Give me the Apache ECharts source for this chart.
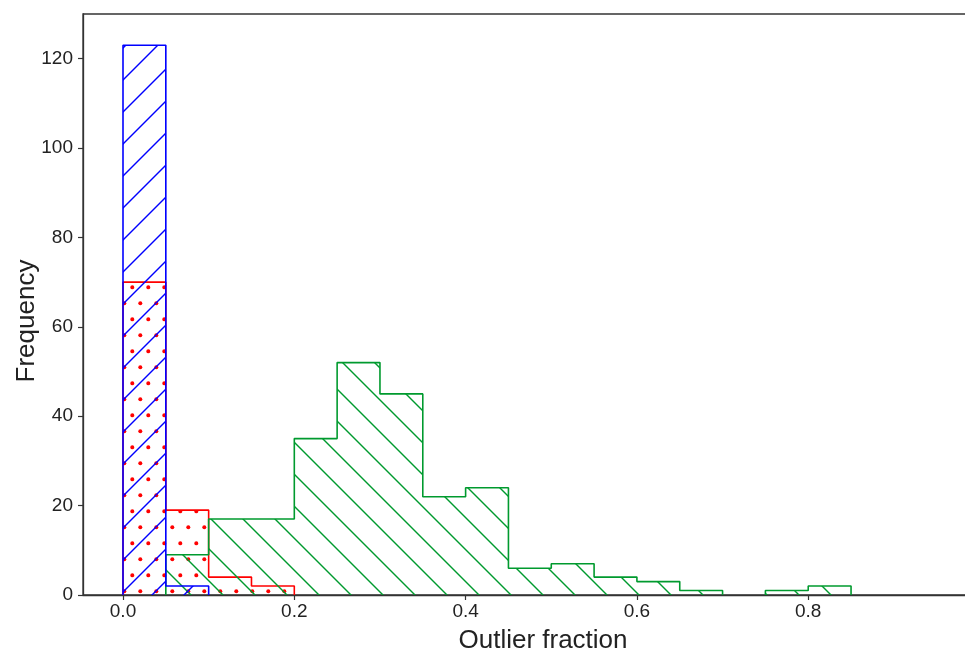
<!DOCTYPE html>
<html>
<head>
<meta charset="utf-8">
<script src="https://cdn.jsdelivr.net/npm/echarts@6/dist/echarts.min.js"></script>
<style>
html,body{margin:0;padding:0;background:#fff;overflow:hidden;width:965px;height:653px;}
#chart{width:1010px;height:653px;}
</style>
</head>
<body>
<div id="chart"></div>
<script>
// ---- data ----
var binEdges = [0, 0.05, 0.1, 0.15, 0.2, 0.25, 0.3, 0.35, 0.4, 0.45, 0.5, 0.55, 0.6, 0.65, 0.7, 0.75, 0.8, 0.85];
var blueCounts  = [123, 2, 0, 0, 0, 0, 0, 0, 0, 0, 0, 0, 0, 0, 0, 0, 0];
var redCounts   = [70, 19, 4, 2, 0, 0, 0, 0, 0, 0, 0, 0, 0, 0, 0, 0, 0];
var greenCounts = [0, 9, 17, 17, 35, 52, 45, 22, 24, 6, 7, 4, 3, 1, 0, 1, 2];
var xTickValues = [0, 0.2, 0.4, 0.6, 0.8, 1.0];
var yTickValues = [0, 20, 40, 60, 80, 100, 120];
var xAxisTitle = 'Outlier fraction';
var yAxisTitle = 'Frequency';

// ---- build step outlines (one run per contiguous non-zero block) ----
function stepRuns(edges, counts) {
  var runs = [], cur = null;
  for (var i = 0; i < counts.length; i++) {
    var c = counts[i];
    if (c > 0) {
      if (!cur) { cur = [[edges[i], 0]]; }
      cur.push([edges[i], c]);
      cur.push([edges[i + 1], c]);
    } else if (cur) {
      cur.push([edges[i], 0]);
      runs.push(cur); cur = null;
    }
  }
  if (cur) { cur.push([edges[counts.length], 0]); runs.push(cur); }
  return runs;
}

// ---- hatch tiles ----
function lineTile(color, dir, phase) {
  var s = 32, c = document.createElement('canvas');
  c.width = s; c.height = s;
  var g = c.getContext('2d');
  g.strokeStyle = color; g.lineWidth = 1.4; g.lineCap = 'butt';
  for (var k = -2; k <= 2; k++) {
    var p = phase + k * s;
    g.beginPath();
    if (dir === 'fwd') { // x + y = p
      g.moveTo(p + 2, -2); g.lineTo(p - s - 2, s + 2);
    } else { // x - y = p
      g.moveTo(p - 2, -2); g.lineTo(p + s + 2, s + 2);
    }
    g.stroke();
  }
  return { image: c, repeat: 'repeat' };
}
function dotTile(color) {
  var w = 16, h = 32, c = document.createElement('canvas');
  c.width = w; c.height = h;
  var g = c.getContext('2d');
  g.fillStyle = color;
  var pts = [[4.3, 31.3], [12.3, 15.3]];
  pts.forEach(function (p) {
    for (var dx = -1; dx <= 1; dx++) for (var dy = -1; dy <= 1; dy++) {
      g.beginPath();
      g.arc(p[0] + dx * w, p[1] + dy * h, 2.0, 0, Math.PI * 2);
      g.fill();
    }
  });
  return { image: c, repeat: 'repeat' };
}

var BLUE = '#0000ff', RED = '#ff0000', GREEN = '#009a2e';
var bluePat = lineTile(BLUE, 'fwd', 11);
var redPat = dotTile(RED);
var greenPat = lineTile(GREEN, 'back', 12);

function makeSeries(counts, color, pattern, z) {
  return stepRuns(binEdges, counts).map(function (run) {
    return {
      type: 'line',
      data: run,
      symbol: 'none',
      z: z,
      animation: false,
      silent: true,
      lineStyle: { color: color, width: 1.6 },
      areaStyle: { color: pattern, opacity: 1, origin: 'start' }
    };
  });
}

var series = []
  .concat(makeSeries(redCounts, RED, redPat, 3))
  .concat(makeSeries(greenCounts, GREEN, greenPat, 4))
  .concat(makeSeries(blueCounts, BLUE, bluePat, 5));

var chart = echarts.init(document.getElementById('chart'), null, { renderer: 'canvas' });
var labelFont = { color: '#222', fontFamily: 'Liberation Sans, Arial, sans-serif', fontSize: 19 };

chart.setOption({
  animation: false,
  backgroundColor: '#fff',
  grid: {
    left: 83, top: 14, bottom: 58, right: 7,
    show: true, borderColor: '#333', borderWidth: 1.3, backgroundColor: 'transparent'
  },
  xAxis: {
    type: 'value',
    min: -0.0467, max: 1.0274,
    splitLine: { show: false },
    axisLine: { show: true, onZero: false, lineStyle: { color: '#333', width: 1.3 } },
    axisTick: { show: true, inside: false, length: 5, lineStyle: { color: '#333', width: 1.2 }, customValues: xTickValues },
    axisLabel: Object.assign({ margin: 7, customValues: xTickValues, formatter: function (v) { return (+v).toFixed(1); } }, labelFont)
  },
  yAxis: {
    type: 'value',
    min: 0, max: 130,
    splitLine: { show: false },
    axisLine: { show: true, onZero: false, lineStyle: { color: '#333', width: 1.3 } },
    axisTick: { show: true, inside: false, length: 5, lineStyle: { color: '#333', width: 1.2 }, customValues: yTickValues },
    axisLabel: Object.assign({ margin: 10, customValues: yTickValues }, labelFont)
  },
  graphic: [
    {
      type: 'text', x: 543, y: 641,
      style: { text: xAxisTitle, fill: '#222', font: '26px "Liberation Sans", Arial, sans-serif', align: 'center', verticalAlign: 'middle' }
    },
    {
      type: 'text', x: 27, y: 321, rotation: Math.PI / 2,
      style: { text: yAxisTitle, fill: '#222', font: '26px "Liberation Sans", Arial, sans-serif', align: 'center', verticalAlign: 'middle' }
    }
  ],
  series: series
});
</script>
</body>
</html>
